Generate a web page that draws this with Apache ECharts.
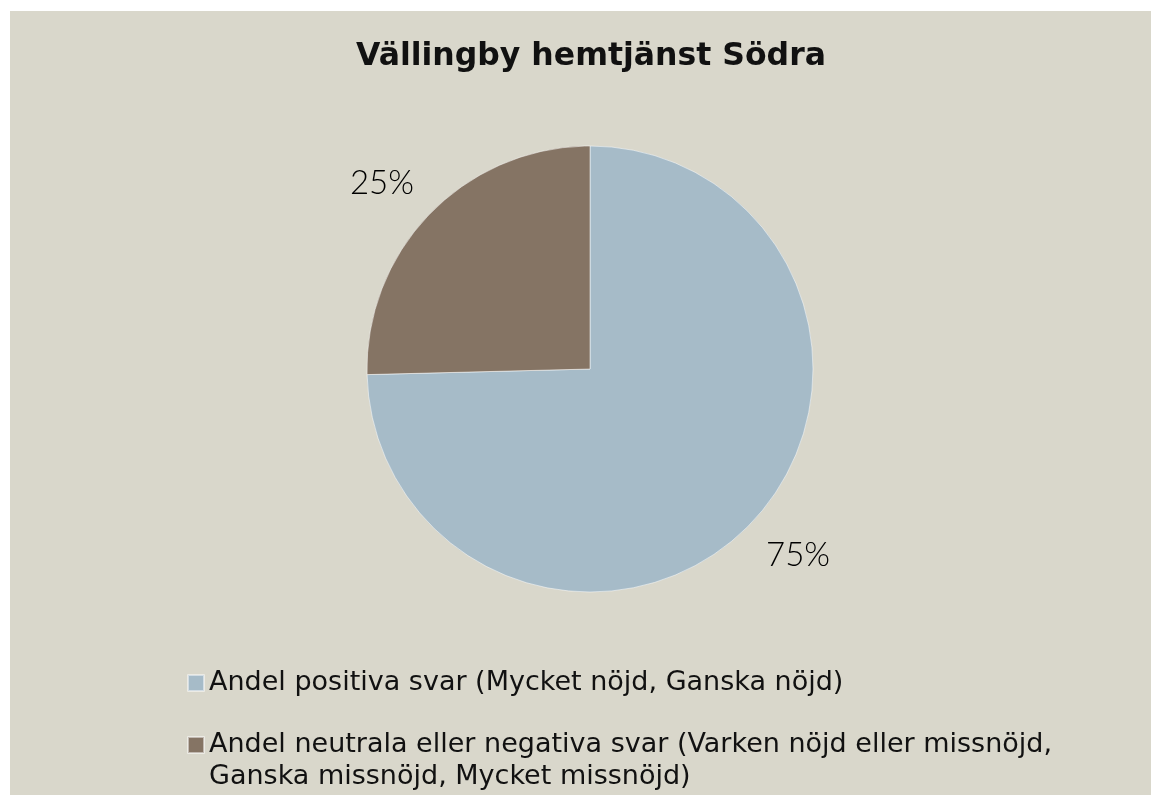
<!DOCTYPE html>
<html>
<head>
<meta charset="utf-8">
<script src="https://cdn.jsdelivr.net/npm/echarts@6/dist/echarts.min.js"></script>
<style>
  html, body { margin: 0; padding: 0; background: #ffffff; }
  #chart { position: absolute; left: 10px; top: 11px; width: 1141px; height: 784px; }
</style>
</head>
<body>
<div id="chart"></div>
<script>
const title = 'Vällingby hemtjänst Södra'
const categories = [
  'Andel positiva svar (Mycket nöjd, Ganska nöjd)',
  'Andel neutrala eller negativa svar (Varken nöjd eller missnöjd, Ganska missnöjd, Mycket missnöjd)',
]
const values = [74.6, 25.4]
const colors = ['#a6bbc8', '#857464']

const textFont = 'DejaVu Sans'
const labelFont = 'Lato'
const data = categories.map((name, i) => ({ name, value: values[i] }))

const chart = echarts.init(document.getElementById('chart'), null, { renderer: 'canvas' })

const legendText = { fontFamily: textFont, fontSize: 27, color: '#111', lineHeight: 32 }

chart.setOption({
  backgroundColor: '#d9d7cb',
  title: {
    text: title,
    left: 576,
    top: 25,
    textAlign: 'center',
    textStyle: { fontFamily: textFont, fontSize: 31.5, fontWeight: 'bold', color: '#111' },
  },
  legend: [
    {
      data: [categories[0]],
      orient: 'vertical',
      left: 172,
      top: 651,
      icon: 'rect',
      itemWidth: 16,
      itemHeight: 16,
      selectedMode: false,
      textStyle: legendText,
    },
    {
      data: [categories[1]],
      orient: 'vertical',
      left: 172,
      top: 681,
      icon: 'rect',
      itemWidth: 16,
      itemHeight: 16,
      selectedMode: false,
      textStyle: legendText,
      // empty first line keeps the icon level with the first text line
      formatter: (name) => '\n' + name.replace('missnöjd, ', 'missnöjd,\n'),
    },
  ],
  series: [
    {
      type: 'pie',
      center: [580, 358],
      radius: 223,
      startAngle: 90,
      clockwise: true,
      color: colors,
      data: data,
      label: { show: false },
      labelLine: { show: false },
      itemStyle: { borderColor: 'rgba(255,255,255,0.5)', borderWidth: 1 },
      emphasis: { disabled: true },
      silent: true,
    },
    {
      // transparent ring only used to place the percentage labels
      type: 'pie',
      center: [580, 358],
      radius: [253, 299],
      startAngle: 92.5,
      clockwise: true,
      data: data,
      itemStyle: { color: 'transparent' },
      label: {
        show: true,
        position: 'inside',
        fontFamily: labelFont,
        fontSize: 33,
        fontWeight: 300,
        color: '#000',
        formatter: (p) => Math.round(p.percent) + '%',
      },
      labelLine: { show: false },
      emphasis: { disabled: true },
      legendHoverLink: false,
      silent: true,
    },
  ],
})
</script>
</body>
</html>
